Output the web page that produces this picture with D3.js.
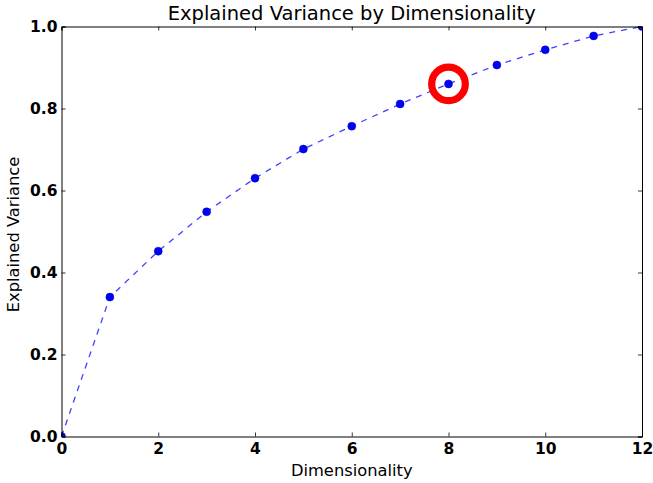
<!DOCTYPE html>
<html>
<head>
<meta charset="utf-8">
<script src="https://cdn.jsdelivr.net/npm/d3@7"></script>
<style>
  body { margin: 0; background: #fff; }
  svg { font-family: "DejaVu Sans", sans-serif; }
</style>
</head>
<body>
<div id="chart"></div>
<script>
// data
const dims = [0, 1, 2, 3, 4, 5, 6, 7, 8, 9, 10, 11, 12];
const variance = [0, 0.340, 0.452, 0.548, 0.630, 0.701, 0.757, 0.811, 0.860, 0.906, 0.943, 0.977, 1.0];
const xTicks = [0, 2, 4, 6, 8, 10, 12];
const yTicks = [0.0, 0.2, 0.4, 0.6, 0.8, 1.0];
const highlightDim = 8;

const W = 653, H = 483;
const margin = { top: 26.5, right: 11, bottom: 46.5, left: 61.5 };
const width = W - margin.left - margin.right;
const height = H - margin.top - margin.bottom;

const svg = d3.select('#chart').append('svg')
    .attr('width', W)
    .attr('height', H);

const g = svg.append('g')
    .attr('transform', `translate(${margin.left},${margin.top})`);

const x = d3.scaleLinear().domain([0, 12]).range([0, width]);
const y = d3.scaleLinear().domain([0, 1]).range([height, 0]);

g.append('clipPath').attr('id', 'clip')
  .append('rect').attr('width', width).attr('height', height);

const pts = dims.map((d, i) => ({ d, v: variance[i] }));

// dashed line
const line = d3.line().x(p => x(p.d)).y(p => y(p.v));
g.append('path')
    .datum(pts)
    .attr('clip-path', 'url(#clip)')
    .attr('d', line)
    .attr('fill', 'none')
    .attr('stroke', '#0000ff')
    .attr('stroke-opacity', 0.75)
    .attr('stroke-width', 1.3)
    .attr('stroke-dasharray', '6,6');

// markers
g.append('g').attr('clip-path', 'url(#clip)')
  .selectAll('circle')
  .data(pts)
  .join('circle')
    .attr('cx', p => x(p.d))
    .attr('cy', p => y(p.v))
    .attr('r', 4)
    .attr('fill', '#0000ff')
    .attr('stroke', '#0000aa')
    .attr('stroke-width', 0.5);

// red highlight ring
const hp = pts.find(p => p.d === highlightDim);
g.append('circle')
    .attr('cx', x(hp.d))
    .attr('cy', y(hp.v))
    .attr('r', 16.8)
    .attr('fill', 'none')
    .attr('stroke', '#ff0000')
    .attr('stroke-width', 7.2);

// axes: ticks inward on all sides
const tl = 4;
const xb = d3.axisBottom(x).tickValues(xTicks).tickFormat(d3.format('d')).tickSize(-tl).tickPadding(6);
const yl = d3.axisLeft(y).tickValues(yTicks).tickFormat(d3.format('.1f')).tickSize(-tl).tickPadding(4);
const xt = d3.axisTop(x).tickValues(xTicks).tickFormat('').tickSize(-tl);
const yr = d3.axisRight(y).tickValues(yTicks).tickFormat('').tickSize(-tl);

g.append('g').attr('transform', `translate(0,${height})`).call(xb);
g.append('g').call(yl);
g.append('g').call(xt);
g.append('g').attr('transform', `translate(${width},0)`).call(yr);

g.selectAll('.domain').attr('stroke', '#000').attr('stroke-width', 1);
g.selectAll('.tick line').attr('stroke', '#000').attr('stroke-width', 0.8);
g.selectAll('.tick text')
    .attr('fill', '#000')
    .style('font-size', '15.5px')
    .style('font-weight', 'bold')
    .style('font-family', '"DejaVu Sans", sans-serif');

// title and labels
svg.append('text')
    .attr('x', margin.left + width / 2)
    .attr('y', 20)
    .attr('text-anchor', 'middle')
    .style('font-size', '19.5px')
    .text('Explained Variance by Dimensionality');

svg.append('text')
    .attr('x', margin.left + width / 2)
    .attr('y', 476)
    .attr('text-anchor', 'middle')
    .style('font-size', '16.3px')
    .text('Dimensionality');

svg.append('text')
    .attr('transform', `translate(19,${margin.top + height / 2 + 3}) rotate(-90)`)
    .attr('text-anchor', 'middle')
    .style('font-size', '16.3px')
    .text('Explained Variance');
</script>
</body>
</html>
